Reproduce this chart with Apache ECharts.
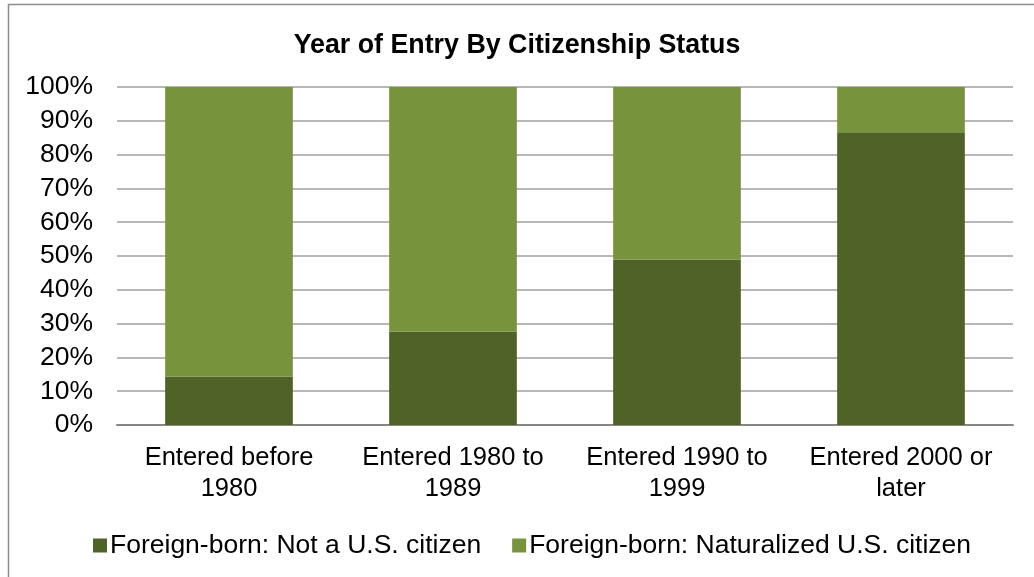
<!DOCTYPE html>
<html><head><meta charset="utf-8">
<script src="https://cdn.jsdelivr.net/npm/echarts@6/dist/echarts.min.js"></script>
<style>html,body{margin:0;padding:0;background:#fff}#c{width:1034px;height:577px}</style>
</head><body><div id="c"></div>
<script>
const categories = ['Entered before\n1980', 'Entered 1980 to\n1989', 'Entered 1990 to\n1999', 'Entered 2000 or\nlater'];
const notCitizen = [14.3, 27.6, 49.0, 86.6];
const naturalized = [85.7, 72.4, 51.0, 13.4];
const seriesNames = ['Foreign-born: Not a U.S. citizen', 'Foreign-born: Naturalized U.S. citizen'];
const titleText = 'Year of Entry By Citizenship Status';

const chart = echarts.init(document.getElementById('c'));
const font = 'Liberation Sans, Arial, sans-serif';
chart.setOption({
  animation: false,
  backgroundColor: '#fff',
  graphic: [{type: 'rect', shape: {x: 8.5, y: 4.5, width: 1100, height: 600}, style: {fill: 'none', stroke: '#8c8c8c', lineWidth: 1.5}, silent: true}],
  title: {text: titleText, left: 'center', top: 27, textStyle: {fontFamily: font, fontSize: 26.8, fontWeight: 'bold', color: '#000'}},
  grid: {left: 117, right: 21, top: 87, bottom: 152},
  legend: {top: 527, left: 88, itemWidth: 14, itemHeight: 14, itemGap: 31, icon: 'rect',
    textStyle: {fontFamily: font, fontSize: 26.5, color: '#000', padding: [0,0,0,-2]}},
  xAxis: {type: 'category', data: categories,
    axisLine: {lineStyle: {color: '#868686', width: 2}}, axisTick: {show: false},
    axisLabel: {interval: 0, fontFamily: font, fontSize: 25.5, color: '#000', margin: 17, lineHeight: 31}},
  yAxis: {type: 'value', min: 0, max: 100, interval: 10,
    axisLine: {show: false}, axisTick: {show: false},
    splitLine: {lineStyle: {color: '#a0a0a0', width: 1.5}},
    axisLabel: {fontFamily: font, fontSize: 26.5, color: '#000', margin: 24, formatter: '{value}%'}},
  series: [
    {name: seriesNames[0], type: 'bar', stack: 'a', data: notCitizen, barWidth: '57%', itemStyle: {color: '#4F6228'}},
    {name: seriesNames[1], type: 'bar', stack: 'a', data: naturalized, barWidth: '57%', itemStyle: {color: '#77933C'}}
  ]
});
</script></body></html>
